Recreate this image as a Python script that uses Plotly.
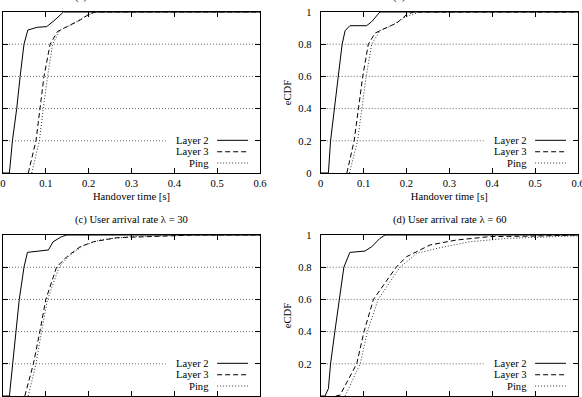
import plotly.graph_objects as go

# ---------------- data ----------------
panel_titles = ["(a) User arrival rate \u03bb = 10", "(b) User arrival rate \u03bb = 20",
                "(c) User arrival rate \u03bb = 30", "(d) User arrival rate \u03bb = 60"]
series_names = ["Layer 2", "Layer 3", "Ping"]
x_ticks = [0, 0.1, 0.2, 0.3, 0.4, 0.5, 0.6]
y_ticks = [0, 0.2, 0.4, 0.6, 0.8, 1]

a_l2_x = [0, 0.015, 0.022, 0.032, 0.040, 0.049, 0.058, 0.080, 0.102, 0.121, 0.141, 0.6]
a_l2_y = [0, 0, 0.2, 0.4, 0.6, 0.8, 0.888, 0.905, 0.909, 0.95, 1, 1]
a_l3_x = [0.059, 0.077, 0.0864, 0.0957, 0.110, 0.127, 0.149, 0.180, 0.203, 0.215, 0.6]
a_l3_y = [0, 0.2, 0.4, 0.6, 0.8, 0.878, 0.909, 0.95, 0.99, 1, 1]
a_pg_x = [0.067, 0.085, 0.094, 0.104, 0.116, 0.133, 0.160, 0.197, 0.219, 0.6]
a_pg_y = [0, 0.2, 0.4, 0.6, 0.8, 0.888, 0.92, 0.98, 1, 1]

b_l2_x = [0, 0.018, 0.023, 0.032, 0.041, 0.050, 0.057, 0.068, 0.107, 0.119, 0.138, 0.6]
b_l2_y = [0, 0, 0.2, 0.4, 0.6, 0.8, 0.884, 0.915, 0.915, 0.94, 1, 1]
b_l3_x = [0.061, 0.078, 0.088, 0.098, 0.111, 0.127, 0.146, 0.177, 0.200, 0.216, 0.6]
b_l3_y = [0, 0.2, 0.4, 0.6, 0.8, 0.869, 0.894, 0.931, 0.983, 1, 1]
b_pg_x = [0.067, 0.086, 0.096, 0.106, 0.119, 0.138, 0.162, 0.200, 0.232, 0.6]
b_pg_y = [0, 0.2, 0.4, 0.6, 0.8, 0.884, 0.911, 0.973, 1, 1]

c_l2_x = [0, 0.015, 0.0226, 0.0296, 0.038, 0.049, 0.057, 0.106, 0.117, 0.137, 0.149, 0.6]
c_l2_y = [0, 0, 0.2, 0.4, 0.6, 0.8, 0.892, 0.907, 0.958, 0.99, 1, 1]
c_l3_x = [0.051, 0.071, 0.086, 0.100, 0.125, 0.149, 0.180, 0.211, 0.265, 0.328, 0.382, 0.45, 0.6]
c_l3_y = [0, 0.2, 0.4, 0.6, 0.8, 0.865, 0.927, 0.958, 0.983, 0.99, 0.996, 1, 1]
c_pg_x = [0.059, 0.077, 0.090, 0.104, 0.131, 0.156, 0.188, 0.226, 0.297, 0.382, 0.45, 0.6]
c_pg_y = [0, 0.2, 0.4, 0.6, 0.8, 0.875, 0.934, 0.969, 0.99, 0.996, 1, 1]

d_l2_x = [0, 0.010, 0.018, 0.023, 0.033, 0.043, 0.054, 0.068, 0.103, 0.119, 0.138, 0.150, 0.6]
d_l2_y = [0, 0, 0.046, 0.2, 0.4, 0.6, 0.8, 0.892, 0.90, 0.927, 0.979, 1, 1]
d_l3_x = [0.035, 0.045, 0.084, 0.101, 0.123, 0.176, 0.200, 0.255, 0.317, 0.395, 0.511, 0.6]
d_l3_y = [0, 0.005, 0.2, 0.4, 0.6, 0.8, 0.865, 0.938, 0.969, 0.990, 0.994, 1]
d_pg_x = [0.057, 0.092, 0.109, 0.134, 0.185, 0.224, 0.278, 0.348, 0.434, 0.597, 0.6]
d_pg_y = [0, 0.2, 0.4, 0.6, 0.8, 0.886, 0.921, 0.958, 0.979, 0.994, 0.995]

panels = [
    [(a_l2_x, a_l2_y), (a_l3_x, a_l3_y), (a_pg_x, a_pg_y)],
    [(b_l2_x, b_l2_y), (b_l3_x, b_l3_y), (b_pg_x, b_pg_y)],
    [(c_l2_x, c_l2_y), (c_l3_x, c_l3_y), (c_pg_x, c_pg_y)],
    [(d_l2_x, d_l2_y), (d_l3_x, d_l3_y), (d_pg_x, d_pg_y)],
]

# ---------------- styling ----------------
W, H = 582, 397
FONT = "Liberation Serif, Times New Roman, serif"
FS = 10.6
dashes = ["solid", "5px,3px", "1px,2px"]
line_colors = ["black", "black", "#333"]

# pixel boxes of the plot areas (left, right, top, bottom)
boxes = [(3, 260, 12, 173), (320.7, 578, 12, 173),
         (3, 260, 235, 396), (320.7, 578, 235, 396)]

fig = go.Figure()
layout = dict(template="none", width=W, height=H, margin=dict(l=0, r=0, t=0, b=0),
              paper_bgcolor="white", plot_bgcolor="white", showlegend=False,
              font=dict(family=FONT, size=FS, color="black"))
shapes = []
annotations = []

for i, (series, box) in enumerate(zip(panels, boxes)):
    k = "" if i == 0 else str(i + 1)
    xa, ya = "x" + k, "y" + k
    l, r, t, b = box
    top_row = i < 2
    right_col = i % 2 == 1
    layout["xaxis" + k] = dict(
        domain=[l / W, r / W], anchor=ya, range=[0, 0.6], tickvals=x_ticks,
        ticktext=[f"{v:g}" for v in x_ticks], ticks="inside", ticklen=5,
        tickcolor="black", showline=True, linecolor="black", linewidth=1,
        mirror="ticks", showgrid=False, zeroline=False, automargin=False,
        ticklabeloverflow="allow",
        title=dict(text="Handover time [s]" if top_row else "", standoff=4,
                   font=dict(family=FONT, size=FS)),
        tickfont=dict(family=FONT, size=FS), fixedrange=True)
    layout["yaxis" + k] = dict(
        domain=[1 - b / H, 1 - t / H], anchor=xa, range=[0, 1], tickvals=y_ticks,
        ticktext=[f"{v:g}" for v in y_ticks], ticks="inside", ticklen=5,
        tickcolor="black", showline=True, linecolor="black", linewidth=1,
        mirror="ticks", showgrid=False, zeroline=False, ticklabelstandoff=6,
        automargin=False,
        title=dict(text="eCDF" if right_col else "", standoff=4,
                   font=dict(family=FONT, size=FS)),
        tickfont=dict(family=FONT, size=FS), fixedrange=True)

    # dotted horizontal grid (the 0.2 line stops before the key)
    for gv in y_ticks[1:-1]:
        shapes.append(dict(type="line", xref=xa, yref=ya, x0=0,
                           x1=0.38 if gv == 0.2 else 0.6, y0=gv, y1=gv,
                           line=dict(color="#666", width=1, dash="1px,2px"),
                           layer="below"))

    for j, (sx, sy) in enumerate(series):
        fig.add_trace(go.Scatter(x=sx, y=sy, mode="lines", xaxis=xa, yaxis=ya,
                                 name=series_names[j],
                                 line=dict(color=line_colors[j], width=1,
                                           dash=dashes[j])))

    # gnuplot-style key
    key_rows = [0.203, 0.132, 0.062]
    for j, ky in enumerate(key_rows):
        annotations.append(dict(xref=xa, yref=ya, x=0.485, y=ky, text=series_names[j],
                                showarrow=False, xanchor="right", yanchor="middle",
                                font=dict(family=FONT, size=FS)))
        shapes.append(dict(type="line", xref=xa, yref=ya, x0=0.5, x1=0.572,
                           y0=ky, y1=ky, layer="above",
                           line=dict(color=line_colors[j], width=1, dash=dashes[j])))

    # panel title
    annotations.append(dict(xref="paper", yref="paper", x=(l + r) / 2 / W,
                            y=1 - (t - 15) / H, text=panel_titles[i], showarrow=False,
                            xanchor="center", yanchor="middle",
                            font=dict(family=FONT, size=FS)))

layout["shapes"] = shapes
layout["annotations"] = annotations
fig.update_layout(**layout)
fig.write_html("out.html")
